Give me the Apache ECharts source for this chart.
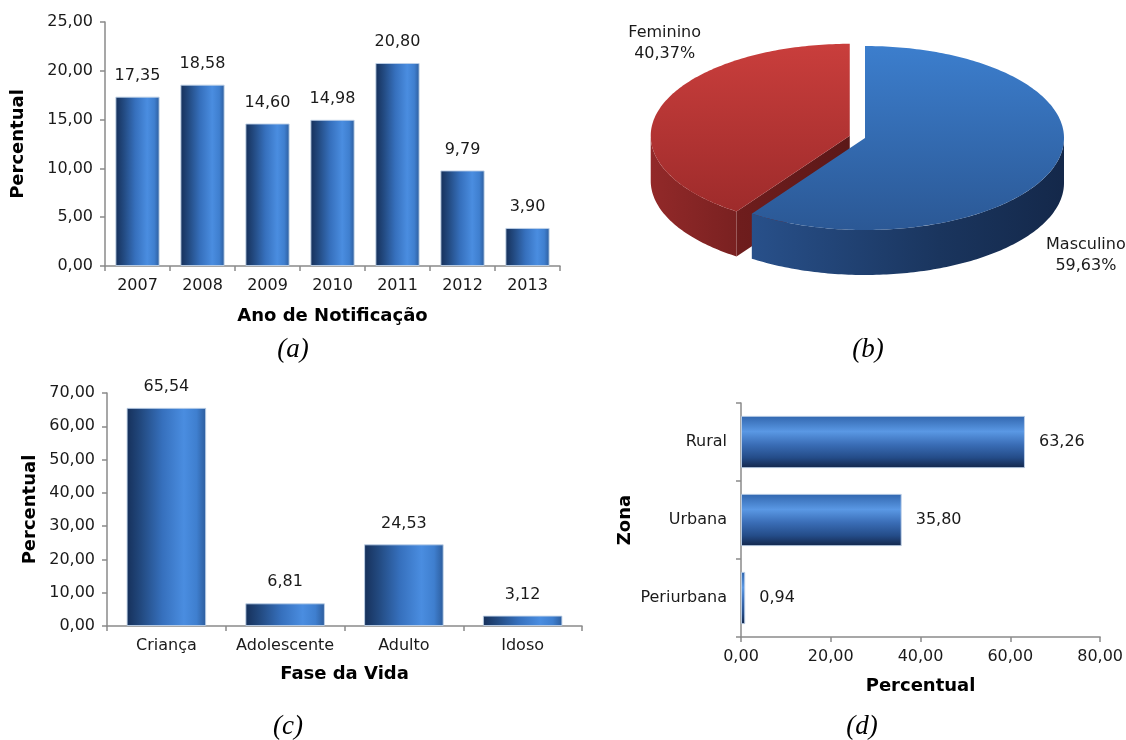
<!DOCTYPE html>
<html><head><meta charset="utf-8">
<script src="https://cdn.jsdelivr.net/npm/echarts@6/dist/echarts.min.js"></script>
<style>html,body{margin:0;padding:0;background:#fff}#c{width:1126px;height:740px}</style>
</head><body><div id="c"></div>
<script>
// ---------- data ----------
const yearCategories = ['2007', '2008', '2009', '2010', '2011', '2012', '2013'];
const yearValues = [17.35, 18.58, 14.60, 14.98, 20.80, 9.79, 3.90];

const sexCategories = ['Masculino', 'Feminino'];
const sexValues = [59.63, 40.37];

const lifeCategories = ['Criança', 'Adolescente', 'Adulto', 'Idoso'];
const lifeValues = [65.54, 6.81, 24.53, 3.12];

const zoneCategories = ['Periurbana', 'Urbana', 'Rural'];
const zoneValues = [0.94, 35.80, 63.26];

const yearAxisTicks = [0, 5, 10, 15, 20, 25];
const lifeAxisTicks = [0, 10, 20, 30, 40, 50, 60, 70];
const zoneAxisTicks = [0, 20, 40, 60, 80];

const captions = ['(a)', '(b)', '(c)', '(d)'];

// ---------- style ----------
const FONT = '"DejaVu Sans", Verdana, sans-serif';
const TICK_SIZE = 16;
const TITLE_SIZE = 18;
const fmt = v => Number(v).toFixed(2).replace('.', ',');
const axisColor = '#8a8a8a';
const textColor = '#1a1a1a';

const vBarColor = new echarts.graphic.LinearGradient(0, 0, 1, 0, [
  { offset: 0, color: '#16305a' },
  { offset: 0.18, color: '#22497f' },
  { offset: 0.45, color: '#3670bd' },
  { offset: 0.72, color: '#4a8de0' },
  { offset: 0.88, color: '#3f7fcf' },
  { offset: 1, color: '#2c5c9c' }
]);
const hBarColor = new echarts.graphic.LinearGradient(0, 0, 0, 1, [
  { offset: 0, color: '#3166ae' },
  { offset: 0.3, color: '#5a98e4' },
  { offset: 0.55, color: '#3a6db6' },
  { offset: 0.8, color: '#244c88' },
  { offset: 1, color: '#13264a' }
]);

const nameStyle = { fontFamily: FONT, fontSize: TITLE_SIZE, fontWeight: 'bold', color: '#000' };
function valueAxis(gridIndex, ticks, extra) {
  return Object.assign({
    type: 'value', gridIndex,
    min: ticks[0], max: ticks[ticks.length - 1], interval: ticks[1] - ticks[0],
    splitLine: { show: false },
    axisLine: { show: true, lineStyle: { color: axisColor, width: 1.5 } },
    axisTick: { show: true, length: 5, lineStyle: { color: axisColor, width: 1.5 } },
    axisLabel: { formatter: fmt, color: textColor, fontFamily: FONT, fontSize: TICK_SIZE, margin: 12 },
    nameTextStyle: nameStyle,
    nameLocation: 'middle'
  }, extra || {});
}
function catAxis(gridIndex, data, extra) {
  return Object.assign({
    type: 'category', gridIndex, data,
    axisLine: { show: true, lineStyle: { color: axisColor, width: 1.5 } },
    axisTick: { show: true, length: 5, interval: 0, lineStyle: { color: axisColor, width: 1.5 } },
    axisLabel: { interval: 0, color: textColor, fontFamily: FONT, fontSize: TICK_SIZE, margin: 12 },
    nameTextStyle: nameStyle,
    nameLocation: 'middle'
  }, extra || {});
}
function barLabel(pos, dist) {
  return { show: true, position: pos, distance: dist, formatter: p => fmt(p.value),
    color: textColor, fontFamily: FONT, fontSize: TICK_SIZE };
}

// ---------- 3D pie (custom series) ----------
const PIE = { cx: 865, cy: 138, rx: 199, ry: 92, depth: 45 };
const pieExplode = [0, 16];
const pieLabelPos = [[1.11, 1.28], [-0.93, -1.0]];
const pieColors = [
  {
    top: new echarts.graphic.LinearGradient(0, 0, 0, 1, [{ offset: 0, color: '#3c7ecd' }, { offset: 1, color: '#2b5895' }]),
    wall: new echarts.graphic.LinearGradient(0, 0, 1, 0, [{ offset: 0, color: '#28508a' }, { offset: 0.6, color: '#1a355e' }, { offset: 1, color: '#14284a' }]),
    face: '#1d3a66'
  },
  {
    top: new echarts.graphic.LinearGradient(0, 0, 0, 1, [{ offset: 0, color: '#c93e3c' }, { offset: 1, color: '#9e2b2b' }]),
    wall: new echarts.graphic.LinearGradient(0, 0, 1, 0, [{ offset: 0, color: '#922929' }, { offset: 1, color: '#7a2121' }]),
    face: new echarts.graphic.LinearGradient(0, 0, 1, 0, [{ offset: 0, color: '#6f1d1d' }, { offset: 1, color: '#5c1818' }])
  }
];
const sexTotal = sexValues.reduce((a, b) => a + b, 0);

function renderPie(params, api) {
  const i = params.dataIndex;
  let cum = 0;
  for (let k = 0; k < i; k++) cum += sexValues[k];
  const startDeg = 90 - 360 * cum / sexTotal;
  const endDeg = startDeg - 360 * api.value(0) / sexTotal;
  const a0 = endDeg * Math.PI / 180, a1 = startDeg * Math.PI / 180;
  const mid = (a0 + a1) / 2;
  const e = pieExplode[i];
  const cx = PIE.cx + e * Math.cos(mid);
  const cy = PIE.cy - e * (PIE.ry / PIE.rx) * Math.sin(mid);
  const D = PIE.depth;
  const P = (t, d) => [cx + PIE.rx * Math.cos(t), cy - PIE.ry * Math.sin(t) + (d || 0)];
  const arc = (s, t, d) => {
    const pts = [];
    const n = Math.max(2, Math.ceil(Math.abs(t - s) / (Math.PI / 180)));
    for (let k = 0; k <= n; k++) pts.push(P(s + (t - s) * k / n, d));
    return pts;
  };
  const col = pieColors[i];
  const base = e > 0 ? 0 : 10;
  const poly = (points, fill, z2) => ({ type: 'polygon', shape: { points }, style: { fill, stroke: null }, z2 });
  const children = [];
  const face = t => { const p = P(t); return [[cx, cy], p, [p[0], p[1] + D], [cx, cy + D]]; };
  if (Math.cos(a0) > 1e-6) children.push(poly(face(a0), col.face, base + 1));
  if (Math.cos(a1) < -1e-6) children.push(poly(face(a1), col.face, base + 1));
  for (let k = -2; k <= 1; k++) {
    const lo = Math.PI + 2 * Math.PI * k, hi = 2 * Math.PI + 2 * Math.PI * k;
    const s = Math.max(a0, lo), t = Math.min(a1, hi);
    if (t > s) children.push(poly(arc(s, t, 0).concat(arc(t, s, D)), col.wall, base + 2));
  }
  children.push(poly([[cx, cy]].concat(arc(a0, a1, 0)), col.top, base + 3));
  const lp = pieLabelPos[i];
  children.push({
    type: 'text', z2: 100,
    style: {
      text: sexCategories[i] + '\n' + fmt(api.value(0)) + '%',
      x: cx + lp[0] * PIE.rx, y: cy + lp[1] * PIE.ry,
      align: 'center', verticalAlign: 'middle',
      font: TICK_SIZE + 'px ' + FONT, fill: textColor, lineHeight: 21
    }
  });
  return { type: 'group', children };
}

// ---------- chart ----------
const chart = echarts.init(document.getElementById('c'), null, { renderer: 'canvas' });
const capStyle = (t, x, y) => ({
  type: 'text', x, y,
  style: { text: t, font: 'italic 27px "Liberation Serif", "Times New Roman", serif', fill: '#000', align: 'center', verticalAlign: 'middle' }
});

chart.setOption({
  animation: false,
  backgroundColor: '#fff',
  grid: [
    { left: 105, top: 22, width: 455, height: 244 },
    { left: 107, top: 393, width: 475, height: 233 },
    { left: 741, top: 403, width: 362, height: 234 }
  ],
  xAxis: [
    catAxis(0, yearCategories, { name: 'Ano de Notificação', nameGap: 41 }),
    catAxis(1, lifeCategories, { name: 'Fase da Vida', nameGap: 39 }),
    valueAxis(2, zoneAxisTicks, { name: 'Percentual', nameGap: 40 })
  ],
  yAxis: [
    valueAxis(0, yearAxisTicks, { name: 'Percentual', nameGap: 78 }),
    valueAxis(1, lifeAxisTicks, { name: 'Percentual', nameGap: 68 }),
    catAxis(2, zoneCategories, { name: 'Zona', nameGap: 107, axisLabel: { interval: 0, color: textColor, fontFamily: FONT, fontSize: TICK_SIZE, margin: 14 } })
  ],
  series: [
    {
      type: 'bar', xAxisIndex: 0, yAxisIndex: 0, data: yearValues, barWidth: '68%',
      itemStyle: { color: vBarColor, borderColor: 'rgba(190,208,232,0.9)', borderWidth: 1 },
      label: barLabel('top', 13)
    },
    {
      type: 'bar', xAxisIndex: 1, yAxisIndex: 1, data: lifeValues, barWidth: '67%',
      itemStyle: { color: vBarColor, borderColor: 'rgba(190,208,232,0.9)', borderWidth: 1 },
      label: barLabel('top', 13)
    },
    {
      type: 'bar', xAxisIndex: 2, yAxisIndex: 2, data: zoneValues, barWidth: '67%',
      itemStyle: { color: hBarColor, borderColor: 'rgba(190,208,232,0.9)', borderWidth: 1 },
      label: barLabel('right', 14)
    },
    {
      type: 'custom', coordinateSystem: 'none', renderItem: renderPie,
      data: sexValues.map((v, i) => ({ name: sexCategories[i], value: v }))
    }
  ],
  graphic: [
    capStyle(captions[0], 293, 350),
    capStyle(captions[1], 868, 350),
    capStyle(captions[2], 288, 727),
    capStyle(captions[3], 862, 727)
  ]
});
</script>
</body></html>
